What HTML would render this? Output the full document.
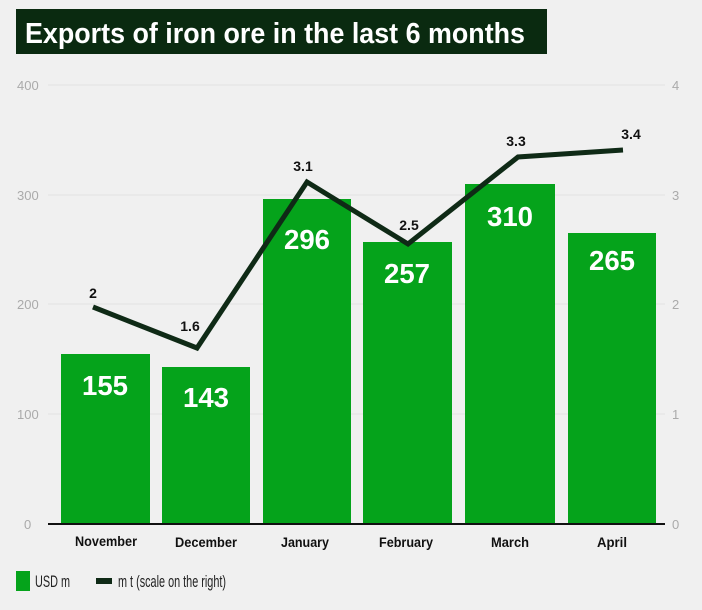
<!DOCTYPE html>
<html><head><style>
body{margin:0;background:#f0f0f0;width:702px;height:605px;overflow:hidden;font-family:"Liberation Sans",sans-serif}
</style></head><body>
<svg width="702" height="605" xmlns="http://www.w3.org/2000/svg" font-family="Liberation Sans, sans-serif">
<rect width="702" height="605" fill="#f0f0f0"/>
<rect x="16" y="9" width="531" height="45" fill="#0a2a10"/>
<text x="25" y="43" font-size="29" font-weight="bold" fill="#fff" textLength="500" lengthAdjust="spacingAndGlyphs">Exports of iron ore in the last 6 months</text>
<g stroke="#e2e2e2" stroke-width="1">
<line x1="48" y1="85" x2="665" y2="85"/><line x1="48" y1="195" x2="665" y2="195"/>
<line x1="48" y1="304" x2="665" y2="304"/><line x1="48" y1="414" x2="665" y2="414"/>
</g>
<g font-size="13" fill="#aaa">
<text x="17" y="90">400</text><text x="17" y="200">300</text><text x="17" y="309">200</text><text x="17" y="419">100</text><text x="24" y="529">0</text>
<text x="672" y="90">4</text><text x="672" y="200">3</text><text x="672" y="309">2</text><text x="672" y="419">1</text><text x="672" y="529">0</text>
</g>
<g fill="#05a31b">
<rect x="61" y="354" width="89" height="170"/>
<rect x="162" y="367" width="88" height="157"/>
<rect x="263" y="199" width="88" height="325"/>
<rect x="363" y="242" width="89" height="282"/>
<rect x="465" y="184" width="90" height="340"/>
<rect x="568" y="233" width="88" height="291"/>
</g>
<line x1="48" y1="524" x2="665" y2="524" stroke="#111" stroke-width="2"/>
<g font-size="28" font-weight="bold" fill="#fff" text-anchor="middle">
<text x="105" y="395" textLength="46" lengthAdjust="spacingAndGlyphs">155</text>
<text x="206" y="407" textLength="46" lengthAdjust="spacingAndGlyphs">143</text>
<text x="307" y="249" textLength="46" lengthAdjust="spacingAndGlyphs">296</text>
<text x="407" y="283" textLength="46" lengthAdjust="spacingAndGlyphs">257</text>
<text x="510" y="226" textLength="46" lengthAdjust="spacingAndGlyphs">310</text>
<text x="612" y="270" textLength="46" lengthAdjust="spacingAndGlyphs">265</text>
</g>
<polyline points="93,307 197,348 307,182 408,244 518,157 623,150" fill="none" stroke="#0f2a16" stroke-width="5" stroke-linejoin="miter"/>
<g font-size="14" font-weight="bold" fill="#111" text-anchor="middle">
<text x="93" y="298">2</text><text x="190" y="331">1.6</text><text x="303" y="171">3.1</text>
<text x="409" y="230">2.5</text><text x="516" y="146">3.3</text><text x="631" y="139">3.4</text>
</g>
<g font-size="14" font-weight="bold" fill="#111" text-anchor="middle">
<text x="106" y="546" textLength="62" lengthAdjust="spacingAndGlyphs">November</text>
<text x="206" y="547" textLength="62" lengthAdjust="spacingAndGlyphs">December</text>
<text x="305" y="547" textLength="48" lengthAdjust="spacingAndGlyphs">January</text>
<text x="406" y="547" textLength="54" lengthAdjust="spacingAndGlyphs">February</text>
<text x="510" y="547" textLength="38" lengthAdjust="spacingAndGlyphs">March</text>
<text x="612" y="547" textLength="30" lengthAdjust="spacingAndGlyphs">April</text>
</g>
<rect x="16" y="571" width="14" height="20" fill="#05a31b"/>
<text x="35" y="587" font-size="17" fill="#222" textLength="35" lengthAdjust="spacingAndGlyphs">USD m</text>
<rect x="96" y="578" width="16" height="6" fill="#0f2a16"/>
<text x="118" y="587" font-size="17" fill="#222" textLength="108" lengthAdjust="spacingAndGlyphs">m t (scale on the right)</text>
</svg>
</body></html>
